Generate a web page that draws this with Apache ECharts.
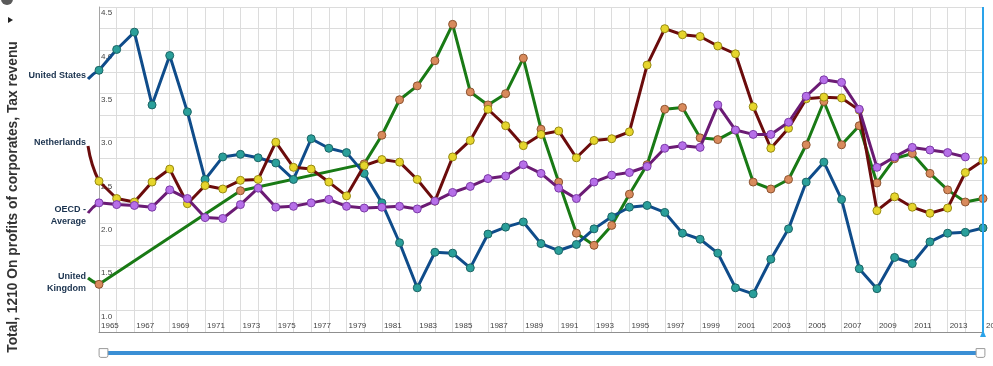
<!DOCTYPE html>
<html><head><meta charset="utf-8">
<script src="https://cdn.jsdelivr.net/npm/echarts@6/dist/echarts.min.js"></script>
<style>html,body{margin:0;padding:0;background:#fff;}#c{width:993px;height:366px;}</style>
</head><body><div id="c"></div>
<script>
// Years on the x axis
const years = [1965,1966,1967,1968,1969,1970,1971,1972,1973,1974,1975,1976,1977,1978,1979,1980,1981,1982,1983,1984,1985,1986,1987,1988,1989,1990,1991,1992,1993,1994,1995,1996,1997,1998,1999,2000,2001,2002,2003,2004,2005,2006,2007,2008,2009,2010,2011,2012,2013,2014,2015];

// Tax on corporate profits, % of GDP
const unitedStates = [3.77,4.01,4.21,3.37,3.94,3.29,2.51,2.77,2.80,2.76,2.70,2.51,2.98,2.87,2.82,2.58,2.24,1.78,1.26,1.67,1.66,1.49,1.88,1.96,2.02,1.77,1.69,1.76,1.94,2.08,2.19,2.21,2.13,1.89,1.82,1.66,1.26,1.19,1.59,1.94,2.48,2.71,2.28,1.48,1.25,1.61,1.54,1.79,1.89,1.90,1.95];
const netherlands = [2.49,2.29,2.25,2.48,2.63,2.23,2.44,2.40,2.50,2.51,2.94,2.65,2.63,2.48,2.32,2.67,2.74,2.71,2.51,2.26,2.77,2.96,3.32,3.13,2.90,3.03,3.07,2.76,2.96,2.98,3.06,3.83,4.25,4.18,4.16,4.05,3.96,3.35,2.87,3.10,3.44,3.46,3.45,3.31,2.15,2.31,2.19,2.12,2.18,2.59,2.73];
const oecdAverage = [2.24,2.22,2.21,2.19,2.39,2.29,2.07,2.06,2.22,2.41,2.19,2.20,2.24,2.28,2.20,2.18,2.19,2.20,2.17,2.26,2.36,2.43,2.52,2.55,2.68,2.58,2.41,2.29,2.48,2.56,2.59,2.66,2.87,2.90,2.88,3.37,3.08,3.03,3.03,3.17,3.47,3.66,3.63,3.32,2.65,2.77,2.88,2.85,2.82,2.77,null];
const unitedKingdom = [1.30,null,null,null,null,null,null,null,2.38,null,null,null,null,null,null,2.69,3.02,3.43,3.59,3.88,4.30,3.52,3.37,3.50,3.91,3.09,2.48,1.89,1.75,1.98,2.34,2.68,3.32,3.34,2.99,2.97,3.08,2.48,2.40,2.51,2.91,3.41,2.91,3.13,2.47,2.75,2.81,2.58,2.39,2.25,2.29];

const seriesNames = ['United States','Netherlands','OECD - Average','United Kingdom'];
const seriesLabels = ['United States','Netherlands','OECD -\nAverage','United\nKingdom'];
const axisTitle = 'Total, 1210 On profits of corporates, Tax revenu';
const lastYear = 2015;

const styles = [
  {line:'#0f4c8a', fill:'#2a9f9a', border:'#1b6464'},
  {line:'#6b0c0c', fill:'#e6d52c', border:'#968a12'},
  {line:'#6b1b74', fill:'#b66fe8', border:'#7b3aa6'},
  {line:'#197a15', fill:'#d88a5c', border:'#8c5330'}
];
const allData = [unitedStates, netherlands, oecdAverage, unitedKingdom];
const order = [3,0,1,2]; // drawing order (z)

function pairs(vals){
  return years.map((y,i)=>[y, vals[i]]).filter(p => p[1] !== null);
}

const series = allData.map((vals, k) => ({
  name: seriesNames[k],
  type: 'line',
  data: pairs(vals),
  symbol: 'circle',
  symbolSize: 8,
  showSymbol: true,
  z: 2 + order.indexOf(k),
  lineStyle: {color: styles[k].line, width: 3},
  itemStyle: {color: styles[k].fill, borderColor: styles[k].border, borderWidth: 1},
  emphasis: {disabled: true},
  animation: false
}));
series[0].markLine = {
  silent: true, symbol: ['none','none'], animation: false,
  label: {show: false},
  lineStyle: {color: '#2aa3ea', width: 2, type: 'solid'},
  data: [{xAxis: lastYear}]
};

const tickFont = 'Liberation Sans Narrow, Liberation Sans, sans-serif';
const chart = echarts.init(document.getElementById('c'));
chart.setOption({
  animation: false,
  grid: {left: 99, right: 10, top: 7, bottom: 34},
  xAxis: {
    type: 'value', min: 1965, max: lastYear, interval: 1,
    axisLine: {show: true, lineStyle: {color: '#8f8f8f'}},
    axisTick: {show: false},
    splitLine: {show: true, lineStyle: {color: '#dcdcdc'}},
    axisLabel: {
      inside: true, margin: 2, verticalAlign: 'bottom', align: 'left', padding: [0,0,0,2],
      fontFamily: tickFont, fontSize: 8, color: '#444',
      showMinLabel: true, showMaxLabel: false,
      formatter: v => (Math.round(v) % 2 === 1 && Math.round(v) !== lastYear ? String(Math.round(v)) : '')
    }
  },
  yAxis: {
    type: 'value', min: 0.75, max: 4.5, interval: 0.25,
    axisLine: {show: true, lineStyle: {color: '#a5a5a5'}},
    axisTick: {show: false},
    splitLine: {show: true, lineStyle: {color: '#dcdcdc'}},
    axisLabel: {
      inside: true, margin: 2, align: 'left', verticalAlign: 'top', padding: [2,0,0,0],
      fontFamily: tickFont, fontSize: 8, color: '#444',
      showMinLabel: true, showMaxLabel: true,
      formatter: v => (v >= 0.99 && Math.abs(v*2 - Math.round(v*2)) < 1e-6 ? v.toFixed(1) : '')
    }
  },
  dataZoom: [{
    type: 'slider', xAxisIndex: 0, filterMode: 'none', start: 0, end: 100,
    left: 101, right: 13, bottom: 11, height: 4,
    showDetail: false, showDataShadow: false, brushSelect: false, moveHandleSize: 0,
    backgroundColor: 'rgba(0,0,0,0)', borderColor: 'rgba(0,0,0,0)',
    fillerColor: '#3a8fd5',
    handleIcon: 'path://M0,2 Q0,0 2,0 L8,0 Q10,0 10,2 L10,10 L0,10 Z',
    handleSize: '220%',
    handleStyle: {color: '#ffffff', borderColor: '#9a9a9a', borderWidth: 1},
    dataBackground: {lineStyle: {opacity: 0}, areaStyle: {opacity: 0}},
    textStyle: {color: 'rgba(0,0,0,0)'}
  }],
  series: series
});

// Left-side series labels with leader stubs to each series' first point
const labelLayout = [
  {textY: 76, stubY: 79},
  {textY: 143, stubY: 146},
  {textY: 216, stubY: 213},
  {textY: 283, stubY: 278}
];
const graphics = [];
allData.forEach((vals, k) => {
  const idx = vals.findIndex(v => v !== null);
  const pt = chart.convertToPixel({gridIndex: 0}, [years[idx], vals[idx]]);
  const L = labelLayout[k];
  const sx = 88;
  graphics.push({
    type: 'bezierCurve', silent: true, z: 1,
    shape: {x1: sx, y1: L.stubY, x2: pt[0], y2: pt[1],
            cpx1: sx + (pt[1] > L.stubY + 15 ? 3 : 4), cpy1: L.stubY + (pt[1]-L.stubY)*0.55},
    style: {stroke: styles[k].line, lineWidth: 3, fill: null}
  });
  graphics.push({
    type: 'text', silent: true, x: 86, y: L.textY,
    style: {text: seriesLabels[k], textAlign: 'right', textVerticalAlign: 'middle',
            font: 'bold 9px "Liberation Sans", Arial, sans-serif', fill: '#1a324e', lineHeight: 12}
  });
});
// last year tick label (runs off the right edge) and the marker triangle
const pEnd = chart.convertToPixel({gridIndex: 0}, [lastYear, 0.75]);
graphics.push({
  type: 'text', silent: true, x: pEnd[0] + 3, y: pEnd[1] - 2,
  style: {text: String(lastYear), textAlign: 'left', textVerticalAlign: 'bottom',
          font: '8px ' + tickFont, fill: '#444'}
});
graphics.push({type: 'polygon', silent: true, z: 10,
  shape: {points: [[pEnd[0], pEnd[1]-2], [pEnd[0]-3, pEnd[1]+5], [pEnd[0]+3, pEnd[1]+5]]},
  style: {fill: '#2aa3ea'}});
graphics.push({
  type: 'text', silent: true, x: 13, y: 197, rotation: Math.PI/2,
  style: {text: axisTitle, textAlign: 'center', textVerticalAlign: 'middle',
          font: 'bold 13.8px "Liberation Sans", Arial, sans-serif', fill: '#333'}
});
graphics.push({type: 'circle', silent: true, shape: {cx: 7, cy: -1, r: 6}, style: {fill: '#5a5a5a'}});
graphics.push({type: 'polygon', silent: true, shape: {points: [[8,17],[8,23],[13,20]]}, style: {fill: '#222'}});
chart.setOption({graphic: graphics});
</script>
</body></html>
